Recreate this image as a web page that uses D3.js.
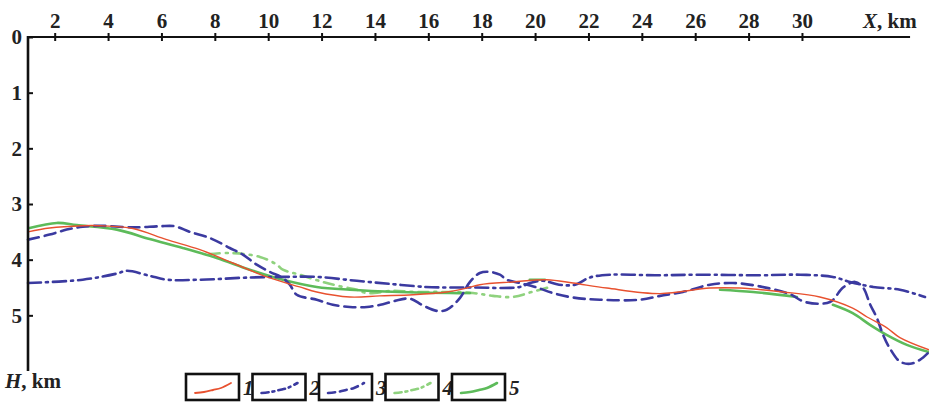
<!DOCTYPE html>
<html><head><meta charset="utf-8">
<script src="https://cdn.jsdelivr.net/npm/d3@7"></script>
<style>
html,body{margin:0;padding:0;background:#fff;}
svg{display:block;}
text{font-family:"Liberation Serif","Times New Roman",serif;font-weight:bold;fill:#222;}
</style></head>
<body>
<svg id="c" width="929" height="405"></svg>
<script>
// ---- data (X in km, H in km) ----
const xTicks = [2,4,6,8,10,12,14,16,18,20,22,24,26,28,30];
const yTicks = [0,1,2,3,4,5];
const legendLabels = ["1","2","3","4","5"];

const series1 = [[1.0,3.50],[1.81,3.43],[3.05,3.39],[3.69,3.39],[4.93,3.44],[6.20,3.64],[7.44,3.82],[8.67,4.06],[9.95,4.31],[11.18,4.49],[11.82,4.58],[13.06,4.67],[14.18,4.65],[15.43,4.63],[16.69,4.58],[17.44,4.51],[17.93,4.45],[19.17,4.40],[20.44,4.36],[21.42,4.42],[22.69,4.51],[24.68,4.61],[26.55,4.51],[27.67,4.51],[29.29,4.58],[30.67,4.67],[31.9,4.87],[32.44,5.03],[33.17,5.22],[33.67,5.40],[34.76,5.62]];

const series2 = [[1.0,4.42],[3.05,4.36],[4.33,4.25],[4.70,4.20],[5.56,4.29],[6.20,4.36],[7.44,4.36],[9.31,4.32],[10.55,4.31],[11.82,4.31],[13.32,4.38],[14.67,4.44],[15.9,4.49],[16.69,4.50],[17.56,4.50],[19.43,4.49],[19.8,4.42],[20.3,4.38],[20.9,4.45],[21.5,4.45],[22.05,4.32],[22.8,4.27],[24.5,4.28],[26.18,4.27],[28.42,4.28],[29.93,4.27],[31.16,4.31],[31.8,4.40],[32.66,4.49],[33.67,4.54],[34.61,4.67]];

const series3 = [[1.0,3.64],[1.81,3.55],[2.45,3.46],[3.05,3.41],[3.69,3.39],[4.93,3.42],[5.94,3.40],[6.50,3.40],[7.06,3.50],[7.81,3.61],[8.56,3.79],[9.05,3.91],[9.57,4.09],[10.06,4.22],[10.55,4.33],[10.81,4.45],[11.07,4.63],[11.82,4.72],[12.42,4.81],[13.06,4.85],[13.70,4.85],[14.30,4.80],[14.75,4.74],[15.31,4.70],[15.79,4.82],[16.32,4.92],[16.69,4.90],[17.18,4.69],[17.56,4.40],[17.93,4.24],[18.31,4.22],[18.68,4.27],[18.94,4.36],[19.43,4.42],[20.07,4.50],[20.67,4.60],[21.42,4.68],[22.43,4.72],[23.93,4.72],[24.68,4.65],[25.54,4.58],[26.55,4.45],[27.41,4.42],[28.42,4.48],[29.55,4.62],[30.11,4.76],[31.05,4.76],[31.54,4.50],[31.99,4.40],[32.29,4.50],[32.55,4.80],[32.81,5.05],[33.04,5.35],[33.30,5.60],[33.67,5.83],[34.05,5.87],[34.42,5.80],[34.76,5.66]];

const series4 = [[7.81,3.90],[8.56,3.88],[9.69,3.95],[10.32,4.09],[10.55,4.18],[11.18,4.27],[12.05,4.40],[12.80,4.49],[13.32,4.54],[13.70,4.60],[14.67,4.56],[15.49,4.58],[16.43,4.58],[17.67,4.60],[18.42,4.65],[19.17,4.67],[19.88,4.58],[20.56,4.49]];

// null = hidden stretch of the curve in the picture
const series5 = [[1.06,3.43],[2.08,3.34],[2.83,3.38],[4.33,3.46],[5.56,3.63],[6.80,3.79],[8.07,3.97],[9.31,4.18],[10.55,4.36],[11.82,4.49],[13.06,4.54],[14.93,4.58],[16.81,4.60],[17.56,4.60],[17.9,null],[19.80,4.36],[20.37,4.36],[20.5,null],[26.93,4.54],[28.17,4.58],[29.81,4.67],[30.2,null],[31.16,4.81],[31.9,4.96],[32.55,5.17],[33.17,5.35],[33.93,5.53],[34.76,5.66]];

// ---- chart ----
const svg = d3.select("#c");
const x = d3.scaleLinear().domain([1, 34.76]).range([28, 929]);
const y = d3.scaleLinear().domain([0, 6]).range([37, 371]);

const BLUE = "#3b3aa0", RED = "#e8512f", GREEN = "#5dbb5a", LGREEN = "#8fd27e";
const styles = [
  {data: series4, color: LGREEN, w: 2.6, dash: "10,6,2,6"},
  {data: series5, color: GREEN, w: 2.6, dash: null},
  {data: series2, color: BLUE, w: 2.6, dash: "13,5,2,5"},
  {data: series3, color: BLUE, w: 2.6, dash: "11,6"},
  {data: series1, color: RED, w: 1.4, dash: null}
];

const line = d3.line()
  .defined(d => d[1] !== null)
  .x(d => x(d[0])).y(d => y(d[1]))
  .curve(d3.curveCatmullRom.alpha(0.5));

styles.forEach(s => {
  svg.append("path").datum(s.data)
    .attr("d", line).attr("fill", "none")
    .attr("stroke", s.color).attr("stroke-width", s.w)
    .attr("stroke-linecap", "round")
    .attr("stroke-dasharray", s.dash);
});

// top X axis
const gx = svg.append("g").attr("transform", `translate(0,${y(0)})`)
  .call(d3.axisTop(x).tickValues(xTicks).tickSize(0).tickPadding(9).tickFormat(d3.format("d")));
gx.select(".domain").remove();
gx.selectAll(".tick line").attr("y1", -4).attr("y2", 4).attr("stroke", "#111").attr("stroke-width", 2);
gx.selectAll(".tick text").style("font-family", '"Liberation Serif",serif').style("font-weight", "bold").style("font-size", "21px").attr("fill", "#222");
svg.append("line").attr("x1", x(1)).attr("x2", x(34.05)).attr("y1", y(0)).attr("y2", y(0))
  .attr("stroke", "#111").attr("stroke-width", 2.2);

// left H axis
const gy = svg.append("g").attr("transform", `translate(${x(1)},0)`)
  .call(d3.axisLeft(y).tickValues(yTicks).tickSize(-5).tickPadding(6).tickFormat(d3.format("d")));
gy.select(".domain").remove();
gy.selectAll(".tick line").attr("stroke", "#111").attr("stroke-width", 2);
gy.selectAll(".tick text").style("font-family", '"Liberation Serif",serif').style("font-weight", "bold").style("font-size", "21px").attr("fill", "#222");
svg.append("line").attr("x1", x(1)).attr("x2", x(1)).attr("y1", y(0) - 1).attr("y2", y(6))
  .attr("stroke", "#111").attr("stroke-width", 2.6);

// axis titles
const tX = svg.append("text").attr("x", 863).attr("y", 28).style("font-size", "21px");
tX.append("tspan").style("font-style", "italic").text("X");
tX.append("tspan").text(", km");
const tH = svg.append("text").attr("x", 5).attr("y", 388).style("font-size", "21px");
tH.append("tspan").style("font-style", "italic").text("H");
tH.append("tspan").text(", km");

// legend
const sample = d3.line().curve(d3.curveCatmullRom);
const samplePts = [[9,19],[18,18],[27,16],[35,14],[45,9]];
const legendOrder = [series1, series2, series3, series4, series5];
const legStyles = [styles[4], styles[2], styles[3], styles[0], styles[1]];
legendLabels.forEach((lab, i) => {
  const bx = 186 + i * 66.5, by = 374;
  const g = svg.append("g").attr("transform", `translate(${bx},${by})`);
  g.append("rect").attr("width", 53).attr("height", 26).attr("fill", "#fff")
    .attr("stroke", "#111").attr("stroke-width", 2.6);
  const s = legStyles[i];
  g.append("path").attr("d", sample(samplePts)).attr("fill", "none")
    .attr("stroke", s.color).attr("stroke-width", Math.max(s.w, 1.8))
    .attr("stroke-dasharray", s.dash ? (s.dash === "11,6" ? "7,5" : "7,4,2,4") : null)
    .attr("stroke-linecap", "round");
  g.append("text").attr("x", 57).attr("y", 21).style("font-size", "21px")
    .style("font-style", "italic").text(lab);
});
</script>
</body></html>
